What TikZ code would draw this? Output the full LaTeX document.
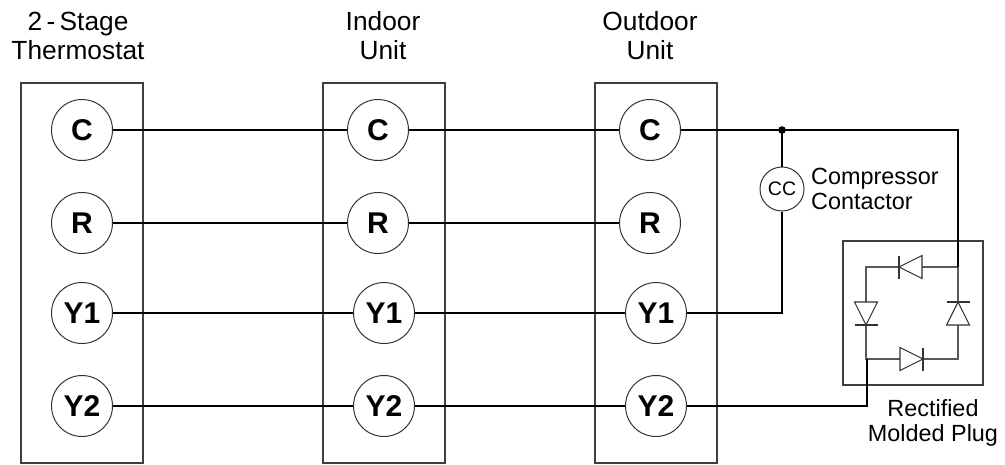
\documentclass[tikz,border=0pt]{standalone}
\usepackage{fontspec}
\setmainfont{Liberation Sans}
\tikzset{
 x=1pt,y=-1pt,
 unitbox/.style={draw=black!75,line width=1.2pt,fill=none},
 term/.style={circle,draw=black!80,line width=1pt,minimum size=61pt,inner sep=0pt,font=\fontsize{30}{30}\selectfont\bfseries},
 wire/.style={line width=2.4pt,black,line cap=butt},
 bridgeline/.style={line width=1.1pt,black!65},
 lab/.style={align=center,font=\fontsize{23.4}{25}\selectfont,inner sep=0pt},
 head/.style={align=center,font=\fontsize{26.3}{29}\selectfont,inner sep=0pt},
 coil/.style={circle,draw=black!80,line width=1pt,minimum size=44pt,inner sep=0pt,font=\fontsize{19.5}{20}\selectfont},
 pics/diode/.style={code={\draw[bridgeline,draw=black!80,fill=white] (-11.5,-11.5) -- (-11.5,11.5) -- (11.5,0) -- cycle; \draw[bridgeline,draw=black!80] (11.5,-11.5) -- (11.5,11.5);}}
}
\begin{document}
\begin{tikzpicture}
\useasboundingbox (0,0) rectangle (1005,464);
\draw[unitbox] (21,83) rectangle (143,463);
\draw[unitbox] (323,83) rectangle (445,463);
\draw[unitbox] (595,83) rectangle (717,463);
\draw[unitbox] (843,241) rectangle (983,385);
\node[head] (lt) at (78,36) {2\,-\,Stage\\Thermostat};
\node[head] (li) at (383,36) {Indoor\\Unit};
\node[head] (lo) at (650,36) {Outdoor\\Unit};
\node[lab,align=left,anchor=west] (lc) at (811,188.5) {Compressor\\Contactor};
\node[lab] (lr) at (933,422.5) {Rectified\\Molded Plug};
\foreach \n/\t/\xa/\xb/\y in {1/C/378/650/130,2/R/378/650/223,3/Y1/384/656/313,4/Y2/384/656/406}{
 \node[term] (a\n) at (82,\y) {\t};
 \node[term] (b\n) at (\xa,\y) {\t};
 \node[term] (c\n) at (\xb,\y) {\t};
 \draw[wire] (a\n) -- (b\n);
 \draw[wire] (b\n) -- (c\n);
}
\node[coil] (cc) at (782,189) {CC};
\coordinate (j) at (782,130);
\coordinate (tr) at (958,130);
\coordinate (nr) at (958,267);
\coordinate (nl) at (866,267);
\coordinate (sr) at (958,359);
\coordinate (sl) at (866,359);
\coordinate (y1c) at (782,313);
\coordinate (y2c) at (867,406);
\draw[bridgeline] (nr) -- (nl) -- (sl) -- (sr) -- cycle;
\draw[wire] (c1) -- (j) -- (tr) -- (nr);
\fill (j) circle (3.8);
\draw[wire] (j) -- (cc);
\draw[wire] (cc) -- (y1c) -- (c3);
\draw[wire] (c4) -- (y2c) -- (y2c |- sl);
\pic[rotate=180] at (910.5,267) {diode};
\pic at (911.5,359) {diode};
\pic[rotate=-90] at (866,313.5) {diode};
\pic[rotate=90] at (958,313.5) {diode};
\end{tikzpicture}
\end{document}
